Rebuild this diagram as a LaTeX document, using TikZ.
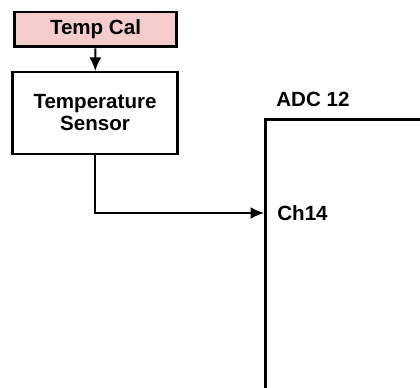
\documentclass[tikz,border=0pt]{standalone}
\usepackage{fontspec}
\setmainfont{Liberation Sans}
\usepackage{xcolor}
\definecolor{mainDark}{HTML}{000000}
\definecolor{calBg}{HTML}{F4CCCC}
\usepackage{tikz}
\usetikzlibrary{positioning,calc,arrows.meta}
\tikzset{%
  calBox/.style={%
    rectangle,
    draw=mainDark,
    line width=1.7pt,
    fill=calBg,
    minimum width=3.26cm,
    minimum height=0.7cm,
    align=center,
    font=\bfseries\fontsize{11.7}{12.5}\selectfont
  },
  sensorBox/.style={%
    rectangle,
    draw=mainDark,
    line width=1.2pt,
    fill=white,
    minimum width=3.3cm,
    minimum height=1.64cm,
    align=center,
    font=\bfseries\fontsize{11.7}{12.5}\selectfont
  },
  adcBox/.style={%
    rectangle,
    draw=mainDark,
    line width=1.7pt,
    minimum width=4cm,
    minimum height=6cm,
    anchor=north west
  },
  pinLabel/.style={%
    anchor=west,
    inner sep=0pt,
    font=\bfseries\fontsize{11.7}{12.5}\selectfont
  },
  arrowLine/.style={%
    -{Latex[length=0.27cm,width=0.24cm]},
    line width=1.1pt,
    color=mainDark
  }
}
\begin{document}
\begin{tikzpicture}[x=0.02cm,y=-0.02cm]
    \useasboundingbox (0,0) rectangle (420,388);
    \clip (0,0) rectangle (420,388);

    \node[calBox] (cal) at (95.5,29.5) {Temp Cal};
    \node[sensorBox] (sensor) at (95,113) {Temperature\\Sensor};

    \node[adcBox] (adc) at (264,118) {};
    \node[pinLabel, anchor=base west] (adcName) at (276,107) {ADC 12};
    \node[pinLabel] (ch14) at (277,213) {Ch14};

    \draw[arrowLine] (cal) -- (sensor);
    \draw[arrowLine] (sensor.south) |- (ch14.west -| adc.west);
\end{tikzpicture}
\end{document}
